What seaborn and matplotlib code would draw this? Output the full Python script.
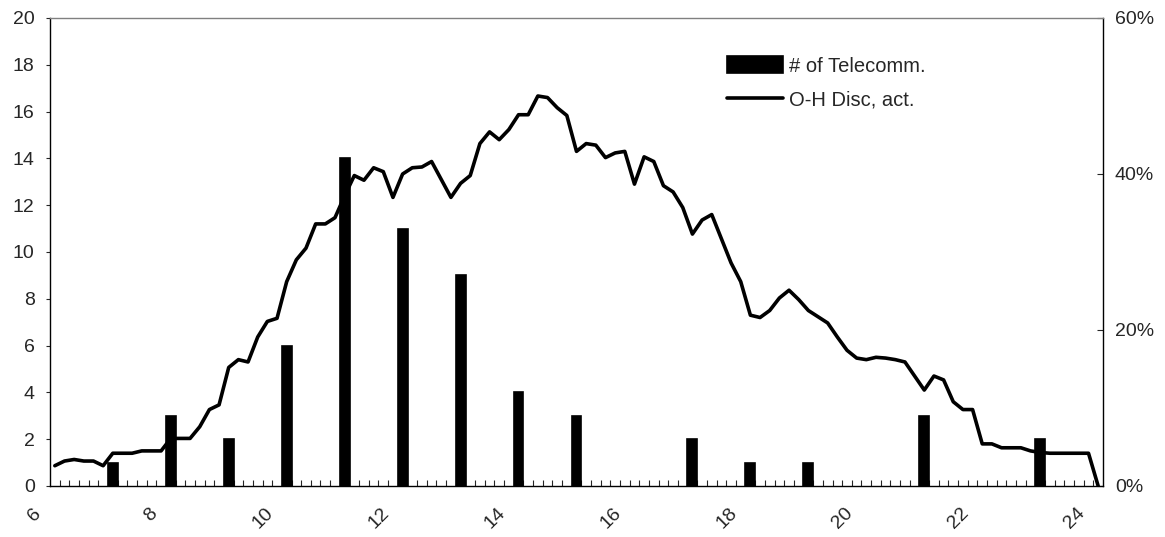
import numpy as np
import matplotlib
matplotlib.use('Agg')
import matplotlib.pyplot as plt
import matplotlib.transforms as mtransforms
from matplotlib.ticker import PercentFormatter
import seaborn as sns

# number of telecomm. per hour (bars, left axis)
bar_hours = [7, 8, 9, 10, 11, 12, 13, 14, 15, 17, 18, 19, 21, 23]
bar_counts = [1, 3, 2, 6, 14, 11, 9, 4, 3, 2, 1, 1, 3, 2]

# O-H disc. activity in %, one value every 10 minutes from 6:00 to 24:00 (right axis)
disc_pct = [
    2.6, 3.2, 3.4, 3.2, 3.2, 2.6,           # 6:00
    4.2, 4.2, 4.2, 4.5, 4.5, 4.5,           # 7:00
    6.1, 6.1, 6.1, 7.6, 9.8, 10.4,          # 8:00
    15.2, 16.2, 15.9, 19.1, 21.1, 21.5,     # 9:00
    26.2, 29.0, 30.5, 33.6, 33.6, 34.4,     # 10:00
    37.2, 39.8, 39.2, 40.8, 40.3, 37.0,     # 11:00
    40.0, 40.8, 40.9, 41.6, 39.3, 37.0,     # 12:00
    38.8, 39.8, 43.9, 45.4, 44.4, 45.7,     # 13:00
    47.6, 47.6, 50.0, 49.8, 48.5, 47.5,     # 14:00
    42.9, 43.9, 43.7, 42.1, 42.7, 42.9,     # 15:00
    38.7, 42.2, 41.6, 38.5, 37.7, 35.7,     # 16:00
    32.3, 34.1, 34.8, 31.7, 28.6, 26.2,     # 17:00
    21.9, 21.6, 22.5, 24.1, 25.1, 23.9,     # 18:00
    22.5, 21.7, 20.9, 19.1, 17.4, 16.4,     # 19:00
    16.2, 16.5, 16.4, 16.2, 15.9, 14.1,     # 20:00
    12.3, 14.1, 13.6, 10.8, 9.8, 9.8,       # 21:00
    5.4, 5.4, 4.9, 4.9, 4.9, 4.5,           # 22:00
    4.3, 4.2, 4.2, 4.2, 4.2, 4.2,           # 23:00
    0.0,                                    # 24:00
]
line_hours = 6 + np.arange(len(disc_pct)) / 6

sns.set_style('white')
plt.rcParams['font.family'] = ['Liberation Sans', 'DejaVu Sans']

fig = plt.figure(figsize=(11.65, 5.37), dpi=100)
ax = fig.add_axes([50 / 1165, 1 - 486 / 537, 1053 / 1165, 468 / 537])
ax2 = ax.twinx()

sns.barplot(x=bar_hours, y=bar_counts, native_scale=True, width=0.17,
            color='black', saturation=1, errorbar=None, ax=ax,
            edgecolor='black', linewidth=1.2, label='# of Telecomm.')
sns.lineplot(x=line_hours, y=disc_pct, color='black', linewidth=2.6, ax=ax2,
             label='O-H Disc, act.')

# bars drawn above the line
ax.set_zorder(ax2.get_zorder() + 1)
ax.patch.set_visible(False)

ax.set_xlim(6 - 1 / 12, 24 + 1 / 12)
ax.set_ylim(0, 20)
ax.set_yticks(range(0, 21, 2))
ax2.set_ylim(0, 60)
ax2.set_yticks([0, 20, 40, 60])
ax2.yaxis.set_major_formatter(PercentFormatter(decimals=0))

ax.set_xticks(range(6, 25, 2))
ax.set_xticks(np.arange(6 - 1 / 12 + 1 / 6, 24, 1 / 6), minor=True)
ax.set_xlabel('')
ax.set_ylabel('')
ax2.set_ylabel('')

ax.tick_params(axis='y', direction='out', length=3, width=0.8, pad=8, labelsize=14, left=True)
ax2.tick_params(axis='y', direction='in', length=4, width=0.8, pad=8.5, labelsize=14, right=True)
ax.tick_params(axis='x', which='major', length=0, pad=2, labelsize=14)
ax.tick_params(axis='x', which='minor', direction='in', length=4.5, width=0.8, bottom=True)

offset = mtransforms.ScaledTranslation(-0.10, -0.16, fig.dpi_scale_trans)
for lab in ax.get_xticklabels():
    lab.set_rotation(45)
    lab.set_ha('right')
    lab.set_transform(lab.get_transform() + offset)

for s in ['left', 'bottom']:
    ax.spines[s].set_color('black')
    ax.spines[s].set_linewidth(1.0)
ax.spines['top'].set_color('#808080')
ax.spines['top'].set_linewidth(1.0)
ax.spines['right'].set_visible(False)
for s in ['top', 'left', 'bottom']:
    ax2.spines[s].set_visible(False)
ax2.spines['right'].set_color('black')
ax2.spines['right'].set_linewidth(1.0)

for a in (ax, ax2):
    if a.get_legend() is not None:
        a.get_legend().remove()

h1, l1 = ax.get_legend_handles_labels()
h2, l2 = ax2.get_legend_handles_labels()
ax.legend(h1 + h2, l1 + l2, loc='upper left', frameon=False,
          bbox_to_anchor=(727 / 1165, 1 - 56 / 537), bbox_transform=fig.transFigure,
          fontsize=14.5, handlelength=2.8, handleheight=0.95, handletextpad=0.3,
          labelspacing=0.7, borderpad=0, borderaxespad=0)

fig.savefig('out.png', dpi=100)
